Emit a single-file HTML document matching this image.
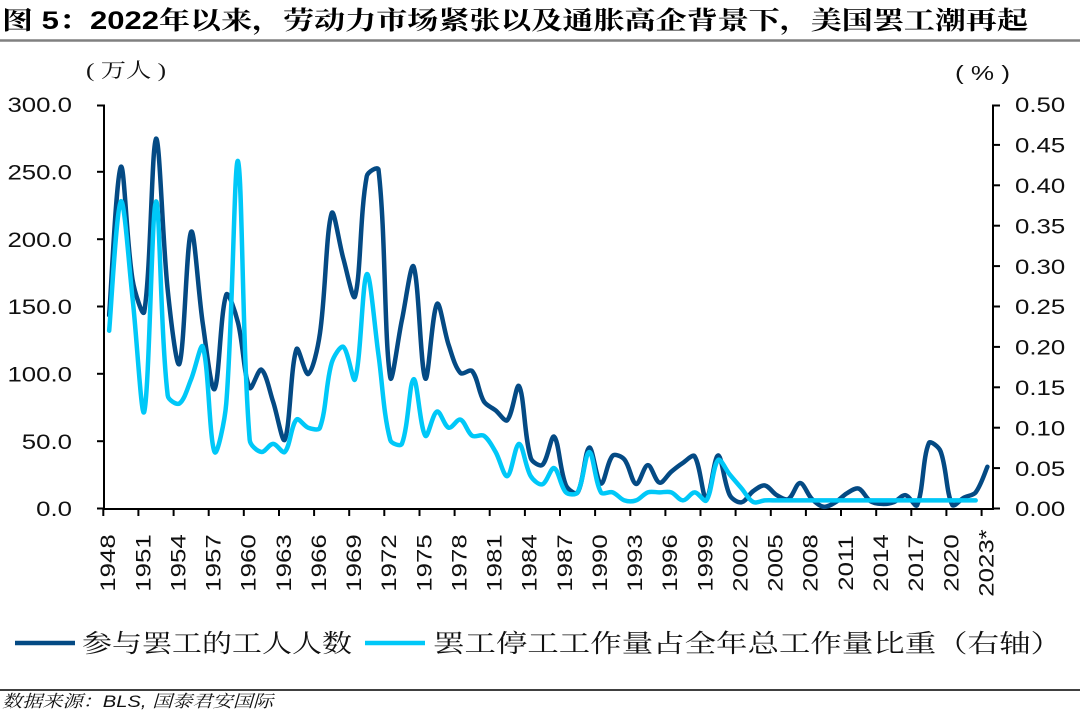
<!DOCTYPE html>
<html>
<head>
<meta charset="utf-8">
<style>
html,body{margin:0;padding:0;background:#fff;}
svg{display:block;}
.tk{font-family:"Liberation Sans",Arial,sans-serif;font-size:21.5px;fill:#111;}
.cjk{font-family:"Liberation Serif","Noto Serif CJK SC",serif;fill:#111;}
</style>
</head>
<body>
<svg id="c" width="1080" height="717" viewBox="0 0 1080 717" xmlns="http://www.w3.org/2000/svg">
  <rect x="0" y="0" width="1080" height="717" fill="#fff"/>
  <!-- Title -->
  <text x="2" y="29" font-size="25" font-weight="bold" textLength="1026" lengthAdjust="spacingAndGlyphs" style="font-family:'Liberation Sans','Noto Serif CJK SC',serif;fill:#000;">图 5：2022年以来，劳动力市场紧张以及通胀高企背景下，美国罢工潮再起</text>
  <line x1="0" y1="40.5" x2="1080" y2="40.5" stroke="#808080" stroke-width="2.5"/>

  <!-- unit labels -->
  <text class="cjk" x="86" y="77" font-size="20" textLength="80" lengthAdjust="spacingAndGlyphs">( 万人 )</text>
  <text x="955" y="80" font-size="20" textLength="55" lengthAdjust="spacingAndGlyphs" style="font-family:'Liberation Sans',Arial,sans-serif;fill:#111;">( % )</text>

  <!-- axes -->
  <g stroke="#000" stroke-width="2" fill="none">
    <line x1="104" y1="104.5" x2="104" y2="510"/>
    <line x1="993" y1="104.5" x2="993" y2="510"/>
    <line x1="103" y1="509" x2="994" y2="509"/>
    <!-- left ticks -->
    <line x1="97" y1="508.5" x2="104" y2="508.5"/>
    <line x1="97" y1="441.2" x2="104" y2="441.2"/>
    <line x1="97" y1="373.8" x2="104" y2="373.8"/>
    <line x1="97" y1="306.5" x2="104" y2="306.5"/>
    <line x1="97" y1="239.2" x2="104" y2="239.2"/>
    <line x1="97" y1="171.8" x2="104" y2="171.8"/>
    <line x1="97" y1="105.5" x2="104" y2="105.5"/>
    <!-- right ticks -->
    <line x1="993" y1="508.5" x2="1000" y2="508.5"/>
    <line x1="993" y1="468.1" x2="1000" y2="468.1"/>
    <line x1="993" y1="427.7" x2="1000" y2="427.7"/>
    <line x1="993" y1="387.3" x2="1000" y2="387.3"/>
    <line x1="993" y1="346.9" x2="1000" y2="346.9"/>
    <line x1="993" y1="306.5" x2="1000" y2="306.5"/>
    <line x1="993" y1="266.1" x2="1000" y2="266.1"/>
    <line x1="993" y1="225.7" x2="1000" y2="225.7"/>
    <line x1="993" y1="185.3" x2="1000" y2="185.3"/>
    <line x1="993" y1="144.9" x2="1000" y2="144.9"/>
    <line x1="993" y1="105.5" x2="1000" y2="105.5"/>
    <!-- x ticks -->
    <line x1="103.3" y1="509" x2="103.3" y2="516"/>
    <line x1="138.4" y1="509" x2="138.4" y2="516"/>
    <line x1="173.6" y1="509" x2="173.6" y2="516"/>
    <line x1="208.7" y1="509" x2="208.7" y2="516"/>
    <line x1="243.8" y1="509" x2="243.8" y2="516"/>
    <line x1="279.0" y1="509" x2="279.0" y2="516"/>
    <line x1="314.1" y1="509" x2="314.1" y2="516"/>
    <line x1="349.2" y1="509" x2="349.2" y2="516"/>
    <line x1="384.3" y1="509" x2="384.3" y2="516"/>
    <line x1="419.5" y1="509" x2="419.5" y2="516"/>
    <line x1="454.6" y1="509" x2="454.6" y2="516"/>
    <line x1="489.7" y1="509" x2="489.7" y2="516"/>
    <line x1="524.9" y1="509" x2="524.9" y2="516"/>
    <line x1="560.0" y1="509" x2="560.0" y2="516"/>
    <line x1="595.1" y1="509" x2="595.1" y2="516"/>
    <line x1="630.3" y1="509" x2="630.3" y2="516"/>
    <line x1="665.4" y1="509" x2="665.4" y2="516"/>
    <line x1="700.5" y1="509" x2="700.5" y2="516"/>
    <line x1="735.6" y1="509" x2="735.6" y2="516"/>
    <line x1="770.8" y1="509" x2="770.8" y2="516"/>
    <line x1="805.9" y1="509" x2="805.9" y2="516"/>
    <line x1="841.0" y1="509" x2="841.0" y2="516"/>
    <line x1="876.2" y1="509" x2="876.2" y2="516"/>
    <line x1="911.3" y1="509" x2="911.3" y2="516"/>
    <line x1="946.4" y1="509" x2="946.4" y2="516"/>
    <line x1="981.6" y1="509" x2="981.6" y2="516"/>
  </g>

  <!-- left tick labels -->
  <g class="tk" text-anchor="end">
    <text transform="translate(72,516.2) scale(1.2,1)">0.0</text>
    <text transform="translate(72,448.9) scale(1.2,1)">50.0</text>
    <text transform="translate(72,381.5) scale(1.2,1)">100.0</text>
    <text transform="translate(72,314.2) scale(1.2,1)">150.0</text>
    <text transform="translate(72,246.9) scale(1.2,1)">200.0</text>
    <text transform="translate(72,179.5) scale(1.2,1)">250.0</text>
    <text transform="translate(72,112.2) scale(1.2,1)">300.0</text>
  </g>
  <!-- right tick labels -->
  <g class="tk">
    <text transform="translate(1015,516.2) scale(1.2,1)">0.00</text>
    <text transform="translate(1015,475.8) scale(1.2,1)">0.05</text>
    <text transform="translate(1015,435.4) scale(1.2,1)">0.10</text>
    <text transform="translate(1015,395.0) scale(1.2,1)">0.15</text>
    <text transform="translate(1015,354.6) scale(1.2,1)">0.20</text>
    <text transform="translate(1015,314.2) scale(1.2,1)">0.25</text>
    <text transform="translate(1015,273.8) scale(1.2,1)">0.30</text>
    <text transform="translate(1015,233.4) scale(1.2,1)">0.35</text>
    <text transform="translate(1015,193.0) scale(1.2,1)">0.40</text>
    <text transform="translate(1015,152.6) scale(1.2,1)">0.45</text>
    <text transform="translate(1015,112.2) scale(1.2,1)">0.50</text>
  </g>
  <!-- x labels -->
  <g class="tk" text-anchor="middle">
    <text transform="translate(115.2,563) rotate(-90) scale(1.2,1)">1948</text>
    <text transform="translate(150.3,563) rotate(-90) scale(1.2,1)">1951</text>
    <text transform="translate(185.4,563) rotate(-90) scale(1.2,1)">1954</text>
    <text transform="translate(220.5,563) rotate(-90) scale(1.2,1)">1957</text>
    <text transform="translate(255.7,563) rotate(-90) scale(1.2,1)">1960</text>
    <text transform="translate(290.8,563) rotate(-90) scale(1.2,1)">1963</text>
    <text transform="translate(325.9,563) rotate(-90) scale(1.2,1)">1966</text>
    <text transform="translate(361.1,563) rotate(-90) scale(1.2,1)">1969</text>
    <text transform="translate(396.2,563) rotate(-90) scale(1.2,1)">1972</text>
    <text transform="translate(431.3,563) rotate(-90) scale(1.2,1)">1975</text>
    <text transform="translate(466.4,563) rotate(-90) scale(1.2,1)">1978</text>
    <text transform="translate(501.6,563) rotate(-90) scale(1.2,1)">1981</text>
    <text transform="translate(536.7,563) rotate(-90) scale(1.2,1)">1984</text>
    <text transform="translate(571.8,563) rotate(-90) scale(1.2,1)">1987</text>
    <text transform="translate(607.0,563) rotate(-90) scale(1.2,1)">1990</text>
    <text transform="translate(642.1,563) rotate(-90) scale(1.2,1)">1993</text>
    <text transform="translate(677.2,563) rotate(-90) scale(1.2,1)">1996</text>
    <text transform="translate(712.4,563) rotate(-90) scale(1.2,1)">1999</text>
    <text transform="translate(747.5,563) rotate(-90) scale(1.2,1)">2002</text>
    <text transform="translate(782.6,563) rotate(-90) scale(1.2,1)">2005</text>
    <text transform="translate(817.7,563) rotate(-90) scale(1.2,1)">2008</text>
    <text transform="translate(852.9,563) rotate(-90) scale(1.2,1)">2011</text>
    <text transform="translate(888.0,563) rotate(-90) scale(1.2,1)">2014</text>
    <text transform="translate(923.1,563) rotate(-90) scale(1.2,1)">2017</text>
    <text transform="translate(958.3,563) rotate(-90) scale(1.2,1)">2020</text>
    <text transform="translate(993.4,563) rotate(-90) scale(1.2,1)">2023*</text>
  </g>

  <!-- series -->
  <path id="dk" d="" fill="none" stroke="#044a84" stroke-width="4.5" stroke-linejoin="round" stroke-linecap="round"/>
  <path id="lt" d="" fill="none" stroke="#00c8f8" stroke-width="4.5" stroke-linejoin="round" stroke-linecap="round"/>

  <!-- legend -->
  <line x1="15" y1="643" x2="75" y2="643" stroke="#044a84" stroke-width="4.5"/>
  <text class="cjk" x="82" y="652" font-size="25" textLength="270" lengthAdjust="spacingAndGlyphs">参与罢工的工人人数</text>
  <line x1="365" y1="643" x2="425" y2="643" stroke="#00c8f8" stroke-width="4.5"/>
  <text class="cjk" x="433" y="652" font-size="25" textLength="629" lengthAdjust="spacingAndGlyphs">罢工停工工作量占全年总工作量比重（右轴）</text>

  <!-- source -->
  <line x1="0" y1="690" x2="1080" y2="690" stroke="#000" stroke-width="1.5"/>
  <text x="2" y="707" font-size="17" font-style="italic" textLength="271" lengthAdjust="spacingAndGlyphs" style="font-family:'Liberation Sans','Noto Serif CJK SC',serif;fill:#111;">数据来源：BLS, 国泰君安国际</text>
</svg>
<script>
(function(){
var dk=[143.5,253.7,169.8,146.2,274.6,162.3,107.5,205.5,137.0,88.7,158.7,138.1,89.6,103.1,79.3,51.2,118.3,99.9,130.0,219.2,185.5,157.6,246.8,251.6,97.5,140.0,179.6,96.5,151.9,121.2,100.6,102.1,79.5,72.9,65.6,90.9,37.6,32.4,53.3,17.4,11.8,45.2,18.5,39.2,36.4,18.2,32.2,19.2,27.3,33.9,38.7,7.3,39.4,9.9,4.6,12.9,17.1,10.0,7.0,18.9,7.2,1.3,4.5,11.3,14.8,5.5,3.4,4.7,9.9,2.5,48.5,42.5,2.7,8.1,12.0,31.0];
var lt=[0.22,0.38,0.26,0.12,0.38,0.14,0.13,0.16,0.20,0.07,0.13,0.43,0.085,0.07,0.08,0.07,0.11,0.10,0.10,0.18,0.20,0.16,0.29,0.19,0.085,0.08,0.16,0.09,0.12,0.10,0.11,0.09,0.09,0.07,0.04,0.08,0.04,0.03,0.05,0.02,0.02,0.07,0.02,0.02,0.01,0.01,0.02,0.02,0.02,0.01,0.02,0.01,0.06,0.042,0.025,0.008];
while(lt.length<75) lt.push(0.01);
function dist(a,b){var dx=a[0]-b[0],dy=a[1]-b[1];return Math.sqrt(dx*dx+dy*dy);}
function P(arr,f){
  var pts=arr.map(function(v,i){return [103.3+(i+0.5)*11.71, f(v)];});
  var d='M'+pts[0][0].toFixed(2)+','+pts[0][1].toFixed(2);
  for(var i=0;i<pts.length-1;i++){
    var p0=pts[i-1]||pts[i],p1=pts[i],p2=pts[i+1],p3=pts[i+2]||p2;
    var d01=dist(p0,p1),d12=dist(p1,p2),d23=dist(p2,p3);
    var s1=(d01+d12)>0? d12/(d01+d12)/3 : 1/6;
    var s2=(d12+d23)>0? d12/(d12+d23)/3 : 1/6;
    if(i===0) s1=1/6;
    if(i===pts.length-2) s2=1/6;
    var c1x=p1[0]+(p2[0]-p0[0])*s1,c1y=p1[1]+(p2[1]-p0[1])*s1;
    var c2x=p2[0]-(p3[0]-p1[0])*s2,c2y=p2[1]-(p3[1]-p1[1])*s2;
    d+=' C'+c1x.toFixed(2)+','+c1y.toFixed(2)+' '+c2x.toFixed(2)+','+c2y.toFixed(2)+' '+p2[0].toFixed(2)+','+p2[1].toFixed(2);
  }
  return d;
}
document.getElementById('dk').setAttribute('d',P(dk,function(v){return 508.5-v*404/300;}));
document.getElementById('lt').setAttribute('d',P(lt,function(p){return 508.5-p*808;}));
})();
</script>
</body>
</html>
